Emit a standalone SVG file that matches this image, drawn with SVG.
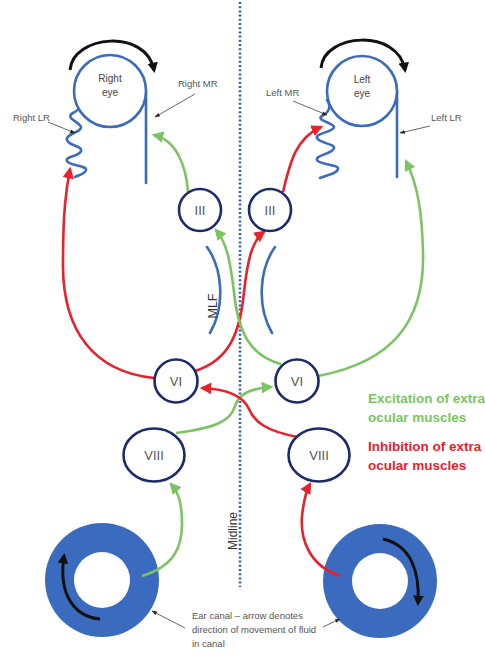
<svg xmlns="http://www.w3.org/2000/svg" width="485" height="657" viewBox="0 0 485 657">
  <style>
    .nuc { fill: #fff; stroke: #1c2a6b; stroke-width: 2.6; }
    .nuc-label { font-family: "Liberation Sans", Arial, sans-serif; font-size: 13px; fill: #555; text-anchor: middle; }
    .muscle { fill: none; stroke: #3a6bbf; stroke-width: 2.6; stroke-linecap: round; stroke-linejoin: round; }
    .eye { fill: #fff; stroke: #3a6bbf; stroke-width: 2.6; }
    .small { font-family: "Liberation Sans", Arial, sans-serif; font-size: 9.5px; fill: #555; }
    .eye-label { font-family: "Liberation Sans", Arial, sans-serif; font-size: 10px; fill: #444; text-anchor: middle; }
    .rot { fill: none; stroke: #111; stroke-width: 3; marker-end: url(#ahBlack); }
    .exc { fill: none; stroke: #7bc462; stroke-width: 2.6; marker-end: url(#ahGreen); }
    .inh { fill: none; stroke: #e8212b; stroke-width: 2.6; marker-end: url(#ahRed); }
    .pointer { fill: none; stroke: #555; stroke-width: 0.9; marker-end: url(#ahGrey); }
    .legend { font-family: "Liberation Sans", Arial, sans-serif; font-size: 13.5px; font-weight: bold; }
    .canal { fill: #3a6bbf; }
  </style>
  <defs>
    <marker id="ahGreen" viewBox="0 0 10 10" refX="8" refY="5" markerWidth="4.5" markerHeight="4.5" orient="auto">
      <path d="M0,0 L10,5 L0,10 z" fill="#7bc462"/>
    </marker>
    <marker id="ahRed" viewBox="0 0 10 10" refX="8" refY="5" markerWidth="4.5" markerHeight="4.5" orient="auto">
      <path d="M0,0 L10,5 L0,10 z" fill="#e8212b"/>
    </marker>
    <marker id="ahBlack" viewBox="0 0 10 10" refX="7" refY="5" markerWidth="3.5" markerHeight="3.5" orient="auto">
      <path d="M0,0 L10,5 L0,10 z" fill="#111"/>
    </marker>
    <marker id="ahGrey" viewBox="0 0 10 10" refX="9" refY="5" markerWidth="6" markerHeight="6" orient="auto">
      <path d="M0,1.5 L10,5 L0,8.5 z" fill="#222"/>
    </marker>
  </defs>

  <!-- midline -->
  <g id="midline">
    <line x1="240" y1="2" x2="240" y2="587" stroke="#2f5fb3" stroke-width="2.6" stroke-dasharray="2 2.2"/>
    <text x="237" y="531" transform="rotate(-90 237 531)" font-family="Liberation Sans, Arial, sans-serif" font-size="12" fill="#333" text-anchor="middle">Midline</text>
  </g>

  <!-- right eye with its muscles -->
  <g id="right-eye">
    <path class="muscle" d="M77,97 C83,103 81,109 73,113 C64,118 80,122 81,127 C82,132 65,134 67,140 C69,146 83,146 81,151 C79,157 65,156 67,161 C69,166 87,165 86,170 C85,174 79,175 75,177"/>
    <line class="muscle" x1="146" y1="91" x2="146" y2="183"/>
    <circle class="eye" cx="110" cy="91" r="36"/>
    <text class="eye-label" x="110" y="82">Right</text>
    <text class="eye-label" x="110" y="96">eye</text>
    <path class="rot" d="M70,70 C73,35 146,28 154,70"/>
    <text class="small" x="13" y="121">Right LR</text>
    <line class="pointer" x1="48" y1="122" x2="75" y2="133"/>
    <text class="small" x="178" y="87">Right MR</text>
    <line class="pointer" x1="195" y1="94" x2="155" y2="117"/>
  </g>

  <!-- left eye with its muscles -->
  <g id="left-eye">
    <path class="muscle" d="M327,100 C331,106 330,112 322,116 C315,120 334,123 334,127 C334,132 315,133 317,138 C319,143 335,144 334,148 C333,154 315,155 317,160 C319,165 339,164 338,169 C337,174 326,175 320,178"/>
    <line class="muscle" x1="397" y1="91" x2="397" y2="177"/>
    <circle class="eye" cx="362" cy="91" r="35"/>
    <text class="eye-label" x="362" y="83">Left</text>
    <text class="eye-label" x="362" y="97">eye</text>
    <path class="rot" d="M321,68 C324,33 398,28 405,70"/>
    <text class="small" x="266" y="96">Left MR</text>
    <line class="pointer" x1="293" y1="101" x2="327" y2="115"/>
    <text class="small" x="431" y="121">Left LR</text>
    <line class="pointer" x1="430" y1="126" x2="400" y2="133"/>
  </g>

  <!-- medial longitudinal fasciculus -->
  <g id="mlf">
    <path class="muscle" d="M207,247 C222,268 226,305 210,333"/>
    <path class="muscle" d="M275,247 C260,268 256,305 272,333"/>
    <text x="217" y="306" transform="rotate(-90 217 306)" font-family="Liberation Sans, Arial, sans-serif" font-size="12.5" fill="#333" text-anchor="middle">MLF</text>
  </g>

  <!-- ear canals -->
  <g id="left-canal">
    <circle class="canal" cx="102" cy="580" r="57"/>
    <circle cx="102" cy="580" r="28" fill="#fff"/>
    <path class="rot" d="M100,619 C75,617 58,595 64,556"/>
  </g>
  <g id="right-canal">
    <circle class="canal" cx="380" cy="581" r="57"/>
    <circle cx="380" cy="581" r="28" fill="#fff"/>
    <path class="rot" d="M383,539 C410,545 420,570 418,603"/>
  </g>

  <!-- connectors -->
  <g id="connectors">
    <path class="inh" d="M154,378 C95,372 62,332 63,262 C63,212 66,190 70,169"/>
    <path class="inh" d="M195,371 C230,360 240,332 244,292 C248,256 253,240 264,232"/>
    <path class="exc" d="M281,364 C250,356 238,332 234,292 C230,258 226,242 216,230"/>
    <path class="exc" d="M318,376 C392,362 425,322 423,252 C422,212 418,186 406,161"/>
    <path class="exc" d="M188,192 C186,165 176,140 154,135"/>
    <path class="inh" d="M283,192 C290,162 296,138 321,127"/>
    <path class="exc" d="M176,433 C215,428 231,421 235,406 C239,393 254,388 271,387"/>
    <path class="inh" d="M298,437 C265,431 254,421 249,409 C243,396 226,389 202,388"/>
    <path class="exc" d="M142,576 C175,566 182,546 182,524 C182,502 178,492 171,484"/>
    <path class="inh" d="M340,576 C310,566 300,540 302,516 C304,498 306,491 310,484"/>
  </g>

  <!-- cranial nerve nuclei -->
  <g id="iii-right">
    <circle class="nuc" cx="200" cy="210" r="21"/>
    <text class="nuc-label" x="200" y="215">III</text>
  </g>
  <g id="iii-left">
    <circle class="nuc" cx="270" cy="210" r="21"/>
    <text class="nuc-label" x="270" y="215">III</text>
  </g>
  <g id="vi-right">
    <circle class="nuc" cx="176" cy="381" r="21.5"/>
    <text class="nuc-label" x="176" y="386">VI</text>
  </g>
  <g id="vi-left">
    <circle class="nuc" cx="297" cy="381" r="21.5"/>
    <text class="nuc-label" x="297" y="386">VI</text>
  </g>
  <g id="viii-right">
    <ellipse class="nuc" cx="154" cy="455" rx="30.5" ry="26.5"/>
    <text class="nuc-label" x="154" y="460">VIII</text>
  </g>
  <g id="viii-left">
    <ellipse class="nuc" cx="319" cy="455" rx="30.5" ry="26.5"/>
    <text class="nuc-label" x="319" y="460">VIII</text>
  </g>

  <!-- legend -->
  <g id="legend">
    <text class="legend" x="368" y="403" fill="#7bc462">Excitation of extra</text>
    <text class="legend" x="368" y="422" fill="#7bc462">ocular muscles</text>
    <text class="legend" x="368" y="451" fill="#e8212b">Inhibition of extra</text>
    <text class="legend" x="368" y="470" fill="#e8212b">ocular muscles</text>
  </g>

  <!-- ear canal caption -->
  <g id="caption">
    <text class="small" x="192" y="619">Ear canal – arrow denotes</text>
    <text class="small" x="192" y="633">direction of movement of fluid</text>
    <text class="small" x="192" y="647">in canal</text>
    <line class="pointer" x1="185" y1="628" x2="152" y2="611"/>
    <line class="pointer" x1="323" y1="627" x2="340" y2="619"/>
  </g>
</svg>
